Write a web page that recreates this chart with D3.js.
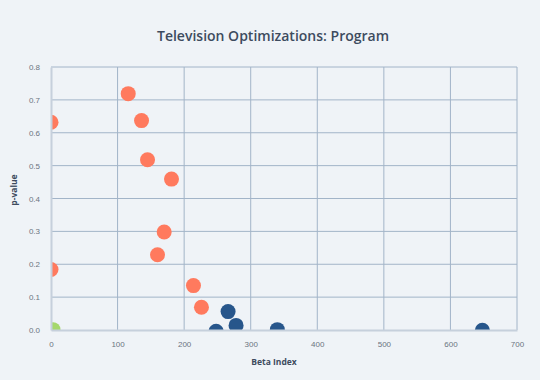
<!DOCTYPE html>
<html>
<head>
<meta charset="utf-8">
<script src="https://cdn.jsdelivr.net/npm/d3@7"></script>
<style>
  html, body { margin: 0; padding: 0; background: #eff3f7; }
  svg { display: block; font-family: "Open Sans", sans-serif; }
  .tick text { fill: #6b7480; font-size: 8px; }
</style>
</head>
<body>
<svg id="chart" width="540" height="380"></svg>
<script>
// data
const orangeX = [0, 0, 116, 136, 145, 181, 170, 160, 214, 226];
const orangeY = [0.632, 0.184, 0.719, 0.637, 0.518, 0.459, 0.298, 0.229, 0.135, 0.069];
const blueX = [266, 278, 248, 340, 648];
const blueY = [0.056, 0.014, -0.004, 0.001, -0.001];
const greenX = [3];
const greenY = [0.001];
const xTicks = [0, 100, 200, 300, 400, 500, 600, 700];
const yTicks = [0, 0.1, 0.2, 0.3, 0.4, 0.5, 0.6, 0.7, 0.8];

const series = [
  { color: '#27568b', xs: blueX, ys: blueY },
  { color: '#ff7a5e', xs: orangeX, ys: orangeY },
  { color: '#a5d86b', xs: greenX, ys: greenY },
];

const svg = d3.select('#chart');
const m = { left: 51, right: 23, top: 67, bottom: 50 };
const W = 540, H = 380;

const x = d3.scaleLinear().domain([0, 700]).range([m.left, W - m.right]);
const y = d3.scaleLinear().domain([0, 0.8]).range([H - m.bottom, m.top]);

// title
svg.append('text')
  .attr('x', 273).attr('y', 41)
  .attr('text-anchor', 'middle')
  .attr('fill', '#3d4b5e')
  .attr('font-size', 14)
  .attr('font-weight', 600)
  .text('Television Optimizations: Program');

// grid
const grid = svg.append('g');
grid.selectAll('line.gx').data(xTicks.slice(1)).enter().append('line')
  .attr('x1', d => x(d)).attr('x2', d => x(d))
  .attr('y1', y(0.8)).attr('y2', y(0))
  .attr('stroke', '#a2b4c8').attr('stroke-width', 1);
grid.selectAll('line.gy').data(yTicks.slice(1)).enter().append('line')
  .attr('y1', d => y(d)).attr('y2', d => y(d))
  .attr('x1', x(0)).attr('x2', x(700))
  .attr('stroke', '#a2b4c8').attr('stroke-width', 1);

// axes
const xAxis = svg.append('g')
  .attr('transform', `translate(0,${y(0)})`)
  .call(d3.axisBottom(x).tickValues(xTicks).tickSize(0).tickPadding(11).tickFormat(d3.format('d')));
const yAxis = svg.append('g')
  .attr('transform', `translate(${x(0)},0)`)
  .call(d3.axisLeft(y).tickValues(yTicks).tickSize(0).tickPadding(11).tickFormat(d3.format('.1f')));
[xAxis, yAxis].forEach(a => a.select('.domain').attr('stroke', '#c6d0dc').attr('stroke-width', 2));

// points, clipped to plot area
svg.append('clipPath').attr('id', 'plot-clip')
  .append('rect')
  .attr('x', x(0)).attr('y', y(0.8))
  .attr('width', x(700) - x(0)).attr('height', y(0) - y(0.8));

const pts = svg.append('g').attr('clip-path', 'url(#plot-clip)');
series.forEach(s => {
  pts.selectAll(null).data(s.xs.map((v, i) => [v, s.ys[i]])).enter().append('circle')
    .attr('cx', d => x(d[0])).attr('cy', d => y(d[1]))
    .attr('r', 7.5)
    .attr('fill', s.color);
});

// redraw axis domains on top
[xAxis, yAxis].forEach(a => svg.node().appendChild(a.node()));

// axis titles
svg.append('text')
  .attr('x', 274).attr('y', 365)
  .attr('text-anchor', 'middle')
  .attr('fill', '#3d4b5e')
  .attr('font-size', 8.5).attr('font-weight', 700)
  .text('Beta Index');
svg.append('text')
  .attr('transform', 'translate(17,190) rotate(-90)')
  .attr('text-anchor', 'middle')
  .attr('fill', '#3d4b5e')
  .attr('font-size', 8.5).attr('font-weight', 700)
  .text('p-value');
</script>
</body>
</html>
